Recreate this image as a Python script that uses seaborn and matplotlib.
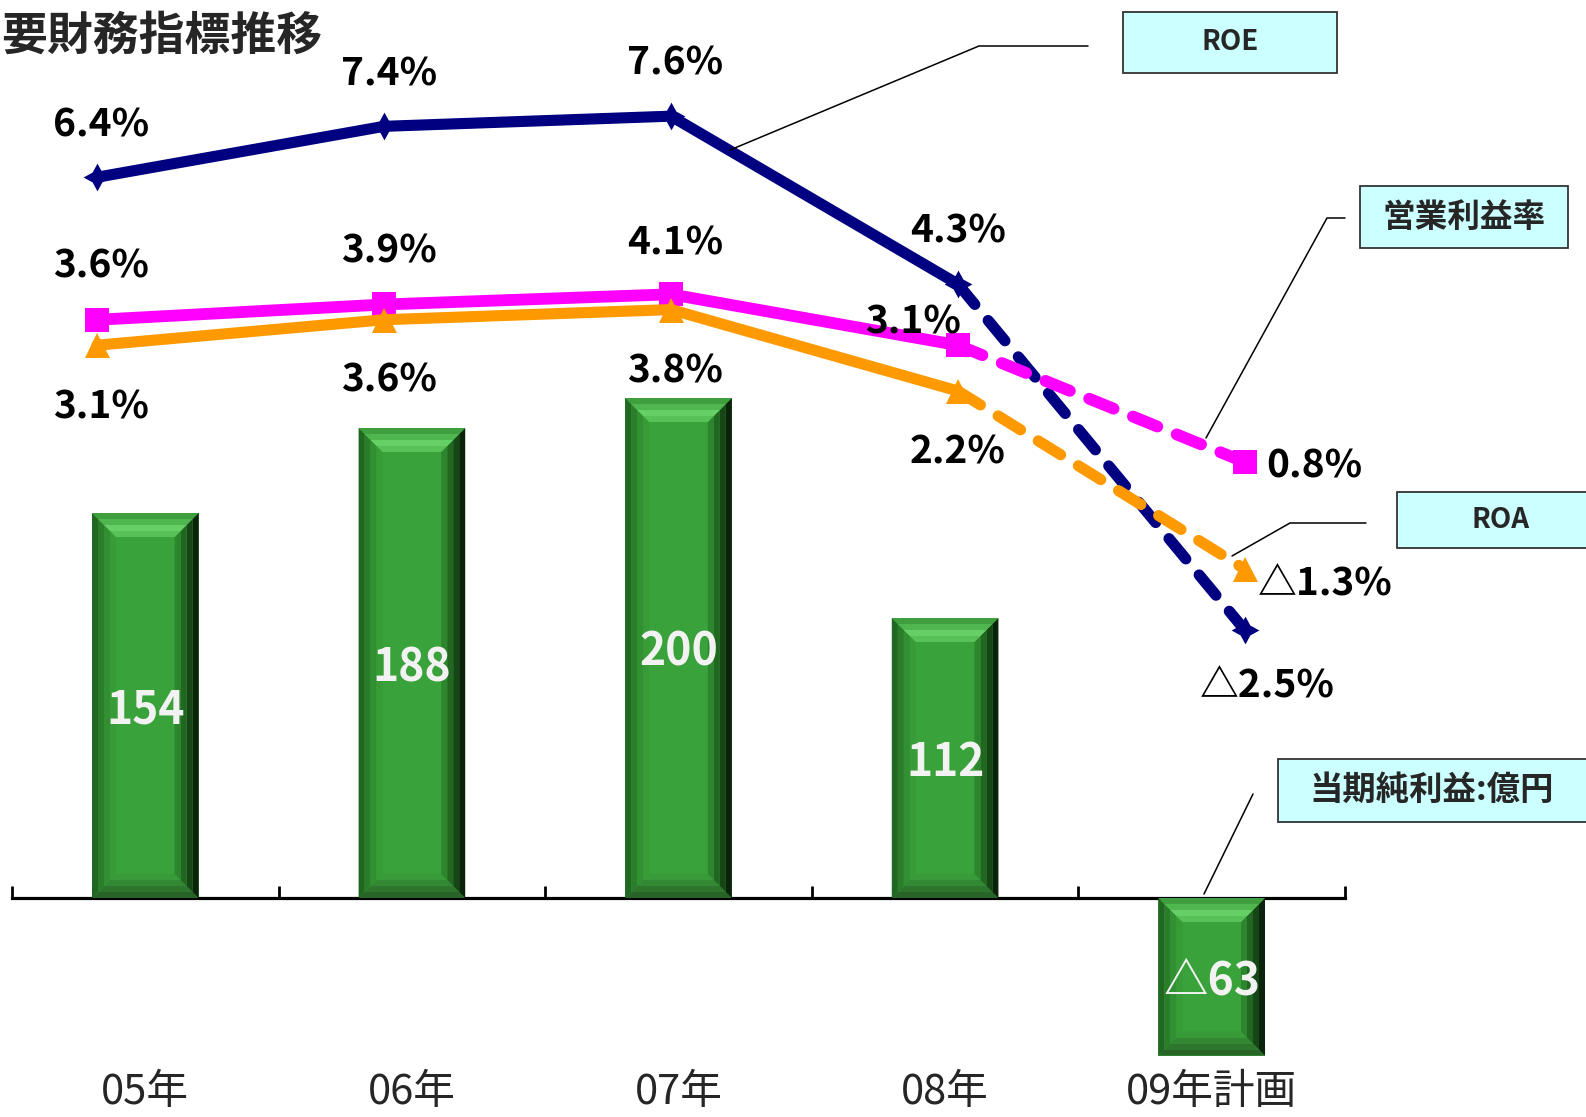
import matplotlib
matplotlib.use('Agg')
import matplotlib.pyplot as plt
from matplotlib.patches import Polygon, Rectangle
from matplotlib.lines import Line2D
import seaborn as sns
import pandas as pd
import numpy as np

# ------------------ Data ------------------
years = ['05年', '06年', '07年', '08年', '09年計画']
net_profit = [154, 188, 200, 112, -63]      # 当期純利益 (億円)
roe = [6.4, 7.4, 7.6, 4.3, -2.5]
op_margin = [3.6, 3.9, 4.1, 3.1, 0.8]       # 営業利益率
roa = [3.1, 3.6, 3.8, 2.2, -1.3]

# label offsets (pixels) from each point
roe_off = [(4, 52), (5, 52), (4, 53), (0, 53), (22, -56)]
op_off = [(4, 54), (5, 53), (4, 51), (-45, 23), (69, -4)]
roa_off = [(4, -62), (5, -60), (4, -61), (0, -61), (80, -15)]

W, H, DPI = 1586, 1117, 100

sns.set_theme(style='white')
plt.rcParams['font.family'] = ['Noto Sans CJK JP', 'DejaVu Sans']
plt.rcParams['lines.scale_dashes'] = False


def fx(x):
    return x / W


def fy(y):
    return 1 - y / H


def delta(v):
    return ('△' if v < 0 else '') + f'{abs(v):g}'


def pct(v):
    return ('△' if v < 0 else '') + f'{abs(v):.1f}%'


fig = plt.figure(figsize=(W / DPI, H / DPI), dpi=DPI)
fig.patch.set_facecolor('white')

# ------------------ Bars: net profit ------------------
ax = fig.add_axes([fx(12), 0, fx(1345) - fx(12), 1])
ax.set_facecolor('none')
df = pd.DataFrame({'year': years, 'profit': net_profit})
sns.barplot(data=df, x='year', y='profit', color='#3aa23a', saturation=1,
            width=0.4, linewidth=0, ax=ax)
ax.set_xlim(-0.5, 4.5)
ax.set_ylim(-(H - 898) / 2.5, 898 / 2.5)
ax.set_xlabel('')
ax.set_ylabel('')
ax.set_yticks([])
for s in ['top', 'left', 'right']:
    ax.spines[s].set_visible(False)
ax.spines['bottom'].set_position(('data', 0))
ax.spines['bottom'].set_color('black')
ax.spines['bottom'].set_linewidth(2.3)
ax.set_xticks(range(len(years)))
ax.set_xticklabels(years, fontsize=30)
ax.set_xticks(np.arange(-0.5, len(years), 1), minor=True)
ax.tick_params(axis='x', which='major', length=0, pad=125, bottom=True)
ax.tick_params(axis='x', which='minor', direction='in', length=8.6,
               width=2, color='black', bottom=True)

# bevel on each bar
p0 = ax.transData.transform((0, 0))
p1 = ax.transData.transform((1, 1))
bx = 6 / (p1[0] - p0[0])
by = 6 / (p1[1] - p0[1])
side_cols = {
    'top': ['#3f9f3f', '#50b650', '#66d066', '#58c258'],
    'left': ['#216621', '#2a7e2a', '#329032', '#379c37'],
    'right': ['#0b230b', '#164616', '#216621', '#2d852d'],
    'bottom': ['#286428', '#2e762e', '#338833', '#389a38'],
}
for patch in list(ax.patches):
    x0 = patch.get_x()
    x1 = x0 + patch.get_width()
    ya = patch.get_y()
    yb = ya + patch.get_height()
    y0, y1 = min(ya, yb), max(ya, yb)
    for k in range(4):
        a, b = k, k + 1
        polys = {
            'top': [(x0 + a * bx, y1 - a * by), (x1 - a * bx, y1 - a * by),
                    (x1 - b * bx, y1 - b * by), (x0 + b * bx, y1 - b * by)],
            'bottom': [(x0 + a * bx, y0 + a * by), (x1 - a * bx, y0 + a * by),
                       (x1 - b * bx, y0 + b * by), (x0 + b * bx, y0 + b * by)],
            'left': [(x0 + a * bx, y0 + a * by), (x0 + a * bx, y1 - a * by),
                     (x0 + b * bx, y1 - b * by), (x0 + b * bx, y0 + b * by)],
            'right': [(x1 - a * bx, y0 + a * by), (x1 - a * bx, y1 - a * by),
                      (x1 - b * bx, y1 - b * by), (x1 - b * bx, y0 + b * by)],
        }
        for side in ['bottom', 'left', 'right', 'top']:
            ax.add_patch(Polygon(polys[side], closed=True, lw=0,
                                 facecolor=side_cols[side][k], zorder=3))

for i, v in enumerate(net_profit):
    ax.annotate(delta(v), (i, v / 2), xytext=(0, -5), textcoords='offset pixels',
                ha='center', va='center', color='#f2f2f2',
                fontsize=32, weight='bold', zorder=5)

# ------------------ Lines: ratios ------------------
ax2 = fig.add_axes([0, 0, 1, 1])
ax2.set_zorder(ax.get_zorder() + 1)
ax2.set_facecolor('none')
ax2.set_xlim((0 - 97) / 287, (W - 97) / 287)
ax2.set_ylim(-(H - 503) / 50.9, 503 / 50.9)
ax2.axis('off')

xs = list(range(len(years)))
series = [
    (roe, roe_off, '#000080', 8.0, (4, 1, 0), 20),
    (op_margin, op_off, '#ff00ff', 8.5, 's', 17),
    (roa, roa_off, '#ff9900', 8.0, '^', 18),
]
for vals, offs, col, lw, mk, ms in series:
    sns.lineplot(x=xs[:4], y=vals[:4], color=col, linewidth=lw, marker=mk,
                 markersize=ms, markeredgewidth=0, ax=ax2)
    ax2.plot(xs[3:], vals[3:], color=col, linewidth=lw, dashes=(19, 15),
             dash_capstyle='round', marker=mk, markersize=ms,
             markeredgewidth=0, markevery=[1])
    for x, v, (dx, dy) in zip(xs, vals, offs):
        ax2.annotate(pct(v), (x, v), xytext=(dx, dy), textcoords='offset pixels',
                     ha='center', va='center', fontsize=28, weight='bold',
                     color='black')

# ------------------ Title ------------------
fig.text(fx(1), fy(37), '要財務指標推移', fontsize=33, weight='bold',
         ha='left', va='center')

# ------------------ Callout boxes ------------------
boxes = [
    ('ROE', (1123, 12, 1337, 73), 20, 1230,
     [(1088, 46), (979, 46), (730, 150)]),
    ('営業利益率', (1360, 186, 1568, 248), 23.5, 1464,
     [(1345, 218), (1327, 218), (1206, 438)]),
    ('ROA', (1397, 492, 1600, 548), 20, 1500,
     [(1366, 523), (1290, 523), (1232, 556)]),
    ('当期純利益:億円', (1278, 759, 1600, 822), 24, 1432,
     [(1253, 794), (1204, 894)]),
]
for text, (x0, y0, x1, y1), fs, tx, pts in boxes:
    fig.add_artist(Rectangle((fx(x0), fy(y1)), fx(x1) - fx(x0), fy(y0) - fy(y1),
                             transform=fig.transFigure, facecolor='#ccffff',
                             edgecolor='#333333', lw=1.3))
    fig.text(fx(tx), fy((y0 + y1) / 2), text, fontsize=fs, weight='bold',
             ha='center', va='center')
    fig.add_artist(Line2D([fx(p[0]) for p in pts], [fy(p[1]) for p in pts],
                          transform=fig.transFigure, color='black', lw=1.1))

fig.savefig('out.png', dpi=DPI)
